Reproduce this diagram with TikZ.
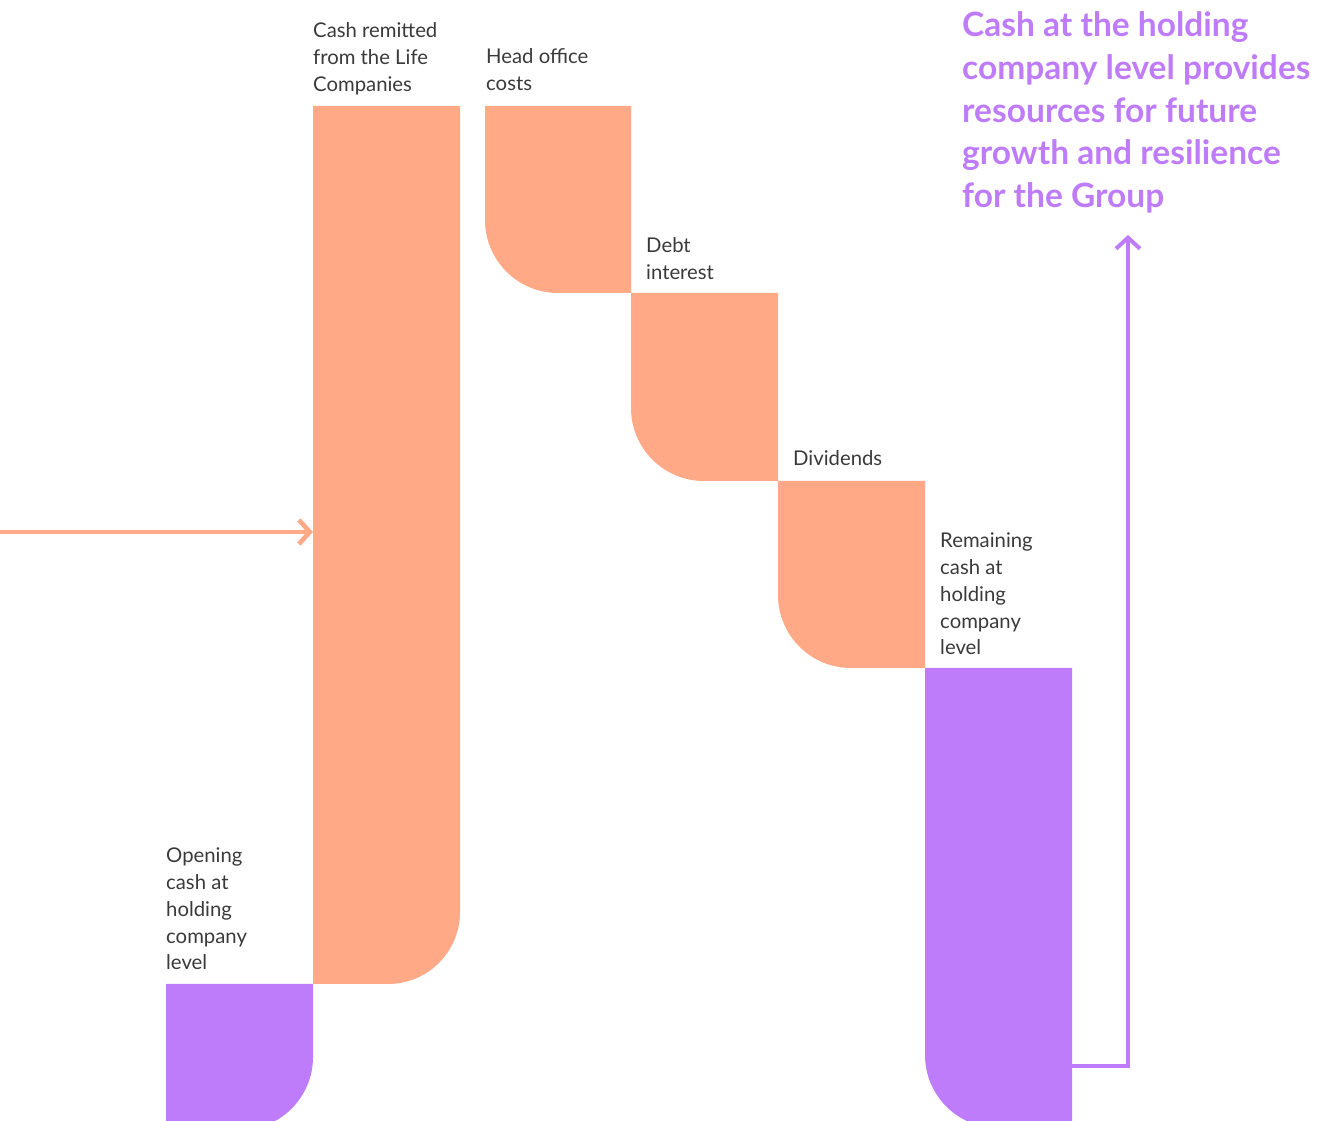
\documentclass[tikz,border=0pt]{standalone}
\usepackage{fontspec}
\setmainfont{Lato}
\usetikzlibrary{arrows.meta}
\definecolor{peach}{HTML}{FFA986}
\definecolor{lilac}{HTML}{BE7CFA}
\definecolor{ink}{HTML}{3A3A3A}

\begin{document}
\begin{tikzpicture}[x=1pt,y=1pt,
  bar/.style={inner sep=0pt, outer sep=0pt, minimum width=147pt, anchor=north west},
  lbl/.style={anchor=base west, inner sep=0pt, align=left, text=ink,
    font=\fontsize{20.3}{26.7}\selectfont},
  flow/.style={line width=4.6pt, -{Straight Barb[length=11pt,width=24pt]}},
]
\useasboundingbox (0,0) rectangle (1328,1121);
\clip (0,0) rectangle (1328,1121);

% bars of the waterfall (outlines only, filled below)
\node[bar, minimum height=146pt] (open) at (166,137) {};
\node[bar, minimum height=878pt] (cash) at (313,1015) {};
\node[bar, minimum width=146pt, minimum height=187pt] (head) at (485,1015) {};
\node[bar, minimum height=188pt] (debt) at (631,828) {};
\node[bar, minimum height=187pt] (divi) at (778,640) {};
\node[bar, minimum height=460pt] (rem) at (925,453) {};

% rising bars: rounded lower right corner
\fill[lilac] (open.north west) -- (open.north east)
  -- ([yshift=73pt]open.south east) arc[start angle=0, end angle=-90, radius=73pt]
  -- (open.south west) -- cycle;
\fill[peach] (cash.north west) -- (cash.north east)
  -- ([yshift=72pt]cash.south east) arc[start angle=0, end angle=-90, radius=72pt]
  -- (cash.south west) -- cycle;

% falling bars: rounded lower left corner
\foreach \b/\c in {head/peach, debt/peach, divi/peach, rem/lilac}{
  \fill[\c] (\b.north west) -- (\b.north east) -- (\b.south east)
    -- ([xshift=73pt]\b.south west) arc[start angle=270, end angle=180, radius=73pt]
    -- cycle;
}

% labels (anchored at the baseline of their last line)
\node[lbl] (lcash) at (313,1029.6) {Cash remitted\\from the Life\\Companies};
\node[lbl] (lhead) at (486,1030.3) {Head office\\costs};
\node[lbl] (ldebt) at (646,841.3) {Debt\\interest};
\node[lbl] (ldivi) at (793,655) {Dividends};
\node[lbl] (lrem) at (940,466.2) {Remaining\\cash at\\holding\\company\\level};
\node[lbl] (lopen) at (166,151.2) {Opening\\cash at\\holding\\company\\level};

\node[anchor=base west, inner sep=0pt, align=left, text=lilac,
  font=\fontsize{33.5}{42.6}\selectfont\bfseries] (msg) at (962,913.6)
  {Cash at the holding\\company level provides\\resources for future\\growth and resilience\\for the Group};

% inflow arrow into the remitted cash bar
\coordinate (src) at (0,589);
\draw[flow, peach] (src) -- (src -| cash.west);

% outflow from remaining cash up to the message
\coordinate (turn) at (1128,55);
\coordinate (goal) at (1128,886);
\draw[flow, lilac, line width=4pt] (turn -| rem.east) -- (turn) -- (goal);
\end{tikzpicture}
\end{document}
